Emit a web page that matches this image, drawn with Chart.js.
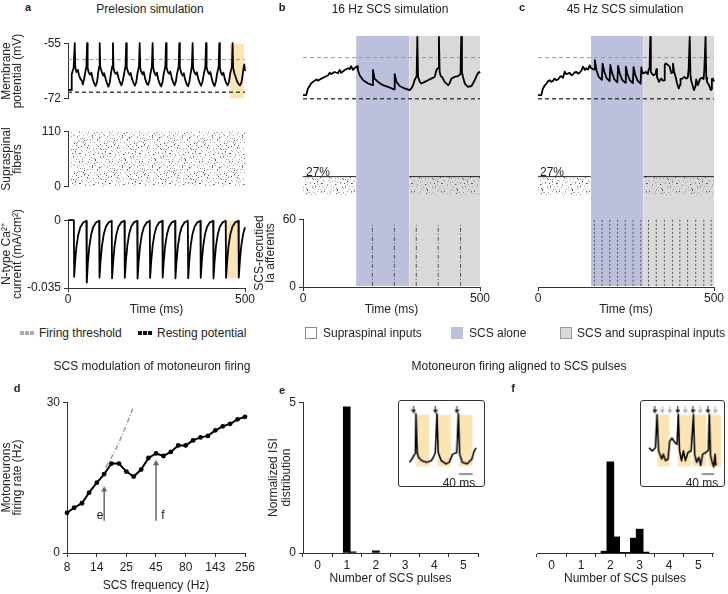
<!DOCTYPE html>
<html><head><meta charset="utf-8">
<script src="https://cdn.jsdelivr.net/npm/chart.js@4.4.1/dist/chart.umd.min.js"></script>
<style>
html,body{margin:0;padding:0;background:#fff;}
body{width:728px;height:594px;position:relative;overflow:hidden;font-family:'Liberation Sans',Arial,sans-serif;color:#222;}
canvas{position:absolute;}
.t{position:absolute;font-size:12px;white-space:nowrap;line-height:14px;transform:translate(-50%,-50%);}
.tl{position:absolute;font-size:12px;white-space:nowrap;line-height:14px;transform:translate(0,-50%);}
.lab{position:absolute;font-size:11px;font-weight:bold;line-height:12px;transform:translate(-50%,-50%);}
.sw{position:absolute;box-sizing:border-box;}
</style></head><body>
<script>
// ---------------- DATA ----------------
const timeTicks = [0, 500];
const timeTickLabels = ['0', '500'];
const vmTicks = [-72, -55];
const vmTickLabels = ['-72', '-55'];
const fiberTicks = [0, 110];
const caTicks = [-0.035, 0];
const caTickLabels = ['-0.035', '0'];
const iaTicks = [0, 60];
const thresholdMv = -60;
const restMv = -70;
const supraFraction = 29.7; // 27% of 110 fibres

// panel a membrane potential (ms, mV)
const traceA = [[0,-69.3],[9,-69.3],[10.5,-64.5],[13,-63.5],[16,-62.5],[19,-55],
[20.5,-62.4],[24,-63.8],[28,-63.2],[31,-64.8],[35,-65.9],[39,-66.5],[42,-67.6],[45,-66.2],[49,-63.8],[52,-62.1],[54,-55],
[55.5,-62.6],[59,-64.1],[63,-64.6],[66,-64],[70,-66],[74,-67.3],[78,-68.1],[82,-66.9],[85,-64.3],[88,-62.2],[89.5,-55],
[91,-62.3],[95,-63.6],[99,-64.9],[102,-64.2],[106,-65.8],[110,-67.2],[114,-68.3],[118,-67],[121,-64.5],[125,-62],[127,-55],
[128.5,-62.5],[132,-64],[136,-64.4],[139,-63.9],[143,-65.7],[147,-67],[151,-67.9],[155,-66.4],[159,-64],[162.5,-62.1],[164.5,-55],
[166,-62.4],[170,-63.9],[174,-64.7],[177,-64.1],[181,-66],[185,-67.1],[189,-68],[193,-66.8],[196,-64.4],[200.5,-62],[202.5,-55],
[204,-62.6],[207,-63.7],[211,-64.5],[214,-63.8],[218,-65.9],[222,-67.2],[226,-67.8],[230,-66.5],[233,-64.2],[237,-62.2],[239,-55],
[240.5,-62.3],[244,-64],[248,-64.8],[251,-64],[255,-66.1],[259,-67.4],[263,-68.2],[267,-66.9],[270,-64.6],[275,-62.1],[277,-55],
[278.5,-62.5],[282,-63.8],[286,-64.3],[289,-63.7],[293,-65.6],[297,-66.9],[301,-67.9],[305,-66.6],[308,-64.3],[312.5,-62.2],[314.5,-55],
[316,-62.4],[320,-64.1],[324,-64.9],[327,-64.2],[331,-66.2],[335,-67.5],[339,-68.2],[343,-66.8],[346,-64.5],[350,-62],[352,-55],
[353.5,-62.6],[357,-63.9],[361,-64.6],[364,-63.9],[368,-65.9],[372,-67.1],[376,-68],[380,-66.7],[384,-64.2],[388,-62.3],[390,-55],
[391.5,-62.4],[395,-63.7],[399,-64.4],[402,-63.8],[406,-65.7],[410,-67.3],[414,-68.1],[418,-66.6],[421,-64.4],[425.5,-62.1],[427.5,-55],
[429,-62.5],[432,-64],[436,-64.7],[439,-64],[443,-66],[447,-67.2],[451,-67.9],[455,-66.7],[458,-64.3],[463,-62.2],[465,-55],
[466.5,-62.5],[470,-64.2],[474,-65.5],[478,-66.8],[482,-67.5],[486,-67.9],[490,-67],[493,-65],[496,-62.5],[498,-61.5],[500,-63.5]];

// panel a N-type Ca current (ms, mA/cm2)
const caA = [[0,0],[16.5,0],
[17.5,-0.0292],[20,-0.0215],[24,-0.0135],[29,-0.0075],[35,-0.0035],[43,-0.0012],[52,-0.0003],
[53,-0.0322],[56,-0.0225],[60,-0.014],[65,-0.0078],[71,-0.0036],[79,-0.0012],[88,-0.0003],
[89,-0.0296],[92,-0.0212],[96,-0.0132],[101,-0.0073],[107,-0.0034],[115,-0.0011],[123.5,-0.0003],
[124.5,-0.0300],[127.5,-0.0215],[131.5,-0.0134],[136.5,-0.0074],[142.5,-0.0034],[150.5,-0.0011],[159.5,-0.0003],
[160.5,-0.0297],[163.5,-0.0213],[167.5,-0.0133],[172.5,-0.0073],[178.5,-0.0034],[186.5,-0.0011],[195.5,-0.0003],
[196.5,-0.0301],[199.5,-0.0216],[203.5,-0.0135],[208.5,-0.0074],[214.5,-0.0035],[222.5,-0.0012],[231,-0.0003],
[232,-0.0298],[235,-0.0214],[239,-0.0133],[244,-0.0073],[250,-0.0034],[258,-0.0011],[266.5,-0.0003],
[267.5,-0.0296],[270.5,-0.0212],[274.5,-0.0132],[279.5,-0.0073],[285.5,-0.0034],[293.5,-0.0011],[302.5,-0.0003],
[303.5,-0.0300],[306.5,-0.0215],[310.5,-0.0134],[315.5,-0.0074],[321.5,-0.0034],[329.5,-0.0011],[338.5,-0.0003],
[339.5,-0.0299],[342.5,-0.0214],[346.5,-0.0133],[351.5,-0.0073],[357.5,-0.0034],[365.5,-0.0011],[374,-0.0003],
[375,-0.0297],[378,-0.0213],[382,-0.0133],[387,-0.0073],[393,-0.0034],[401,-0.0011],[410,-0.0003],
[411,-0.0300],[414,-0.0215],[418,-0.0134],[423,-0.0074],[429,-0.0034],[437,-0.0011],[445.5,-0.0003],
[446.5,-0.0297],[449.5,-0.0213],[453.5,-0.0133],[458.5,-0.0073],[464.5,-0.0034],[472.5,-0.0011],[481.5,-0.0003],
[482.5,-0.0296],[485.5,-0.0212],[489.5,-0.0132],[494.5,-0.0073],[500,-0.0036]];

const highlightVm = [458, 497];
const highlightCa = [446, 484];

// panel b (16 Hz)
const bScsAlone = [150, 300];
const bScsSupra = [300, 500];
const bPulses = [196, 258, 320, 382, 445];
const traceB = [[0,-69.1],[9,-69.1],[14,-67.5],[23,-66.3],[28,-65.9],[38,-65.3],[42,-65.6],[52,-65.1],[61,-64.7],[71,-64.3],[75,-63.7],[80,-64.0],[89,-63.5],[99,-63.8],[104,-63.0],[108,-63.7],[118,-63.0],[127,-62.6],[132,-62.8],[136,-62.1],[141,-63.0],[148,-62.4],[153,-62.1],[155,-63.0],[160,-64.3],[170,-65.5],[184,-66.3],[196,-66.7],[197.7,-63.0],[202,-65.1],[212,-65.9],[226,-66.7],[240,-67.1],[257.5,-67.7],[259,-64.0],[264,-65.9],[273,-66.9],[287,-67.5],[301,-67.9],[306,-67.5],[311,-66.7],[315,-65.5],[321,-64.5],[323,-55],[325,-64.7],[330,-65.9],[334,-66.3],[344,-65.9],[353,-65.5],[362,-65.1],[372,-64.7],[377,-63.0],[382,-62.5],[384,-55],[386,-63.5],[389,-64.5],[393,-64.7],[400,-65.9],[410,-66.7],[414,-66.3],[419,-65.1],[428,-64.7],[438,-64.5],[445,-64.0],[447,-55],[449,-63.5],[452,-64.7],[457,-66.3],[466,-67.1],[476,-66.9],[485,-65.5],[494,-63.8],[497,-63.5],[500,-63.8]];

// panel c (45 Hz)
const cScsAlone = [150, 300];
const cScsSupra = [300, 500];
const cPulses = [160, 182, 204, 226, 248, 270, 292, 314, 336, 359, 382, 403, 425, 448, 471, 492];
const traceC = [[0,-69.1],[9.5,-69.1],[14,-67.5],[19,-66.8],[24,-66.3],[29,-65.7],[33,-65.5],[38,-65.9],[43,-65.6],[47,-65.1],[52,-65.5],[57,-65.3],[62,-64.7],[66,-64.5],[71,-64.9],[76,-63.4],[80,-64.0],[85,-63.9],[90,-63.7],[95,-64.3],[99,-64.1],[104,-63.6],[109,-63.5],[114,-63.9],[118,-63.7],[123,-63.2],[128,-62.2],[133,-63.0],[137,-62.6],[142,-62.9],[147,-61.9],[151,-62.6],[156,-62.8],
[160,-62.9],[161.5,-60.6],[166,-63.0],[172,-64.6],[181.5,-65.4],[183.5,-61.5],[188,-63.3],[195,-65.0],[203.5,-65.7],[205.5,-61.8],[210,-63.6],[217,-65.3],[225.5,-66.0],[227.5,-62.0],[232,-63.8],[239,-65.4],[247.5,-66.1],[249.5,-62.2],[254,-64.0],[261,-65.5],[269.5,-66.2],[271.5,-62.3],[276,-64.1],[283,-65.6],[291.5,-66.3],[293.5,-62.4],[297,-63.8],
[300,-63.8],[306,-63.5],[312,-64.0],[314,-63.0],[317,-62.5],[319,-55],[320.5,-63.5],[323,-63.8],[328,-64.3],[334,-64.0],[336.5,-62.8],[338,-64.7],[344,-65.9],[350,-65.1],[355,-65.6],[358.5,-65.5],[360,-61.8],[363,-61.4],[369,-61.8],[374,-62.2],[379,-63.8],[382,-63.6],[383.5,-61.5],[387,-63.5],[391,-64.7],[395,-66.3],[400,-67.5],[403.5,-66.6],[405,-65.2],[410,-65.1],[416,-64.7],[422,-65.1],[425.5,-64.8],[428,-62.8],[431,-55],[433,-64.2],[435,-65.5],[439,-66.7],[443,-67.9],[447.5,-67.0],[449.5,-65.3],[454,-66.7],[461,-65.1],[466,-64.9],[470.5,-65.2],[472.5,-62.9],[476,-55],[478,-64.8],[480,-65.9],[486,-66.7],[491,-67.9],[492.5,-67.6],[494,-65.2],[497,-65.1],[500,-65.8]];
const iaRange = [1, 56];

// panel d
const dFreq = [8, 9.2, 10.7, 12.3, 14.3, 16.5, 19.0, 22.0, 25.4, 29.3, 33.9, 39.1, 45.3, 52.3, 60.4, 69.8, 80.6, 93.1, 107.6, 124.3, 143.7, 166.0, 191.8, 221.6, 256];
const dRate = [8.0, 9.0, 9.9, 12.0, 14.0, 15.7, 17.8, 17.8, 16.2, 15.2, 16.6, 18.9, 19.8, 19.3, 20.1, 21.4, 21.4, 22.4, 23.0, 23.3, 24.4, 25.2, 25.7, 26.6, 27.1];
const dIdentityX = [17, 19.5, 22, 25, 29];
const dIdentityY = [17, 19.5, 22, 25, 29];
const dFreqTicks = [8, 14.25, 25.4, 45.25, 80.6, 143.7, 256];
const dFreqTickLabels = ['8', '14', '25', '45', '80', '143', '256'];
const dRateTicks = [0, 30];
const dArrowE = [16.5, 6.4, 13.2];
const dArrowF = [45.3, 6.4, 18.4];

// panels e, f
const pulseTicks = [0, 1, 2, 3, 4, 5];
const isiTicks = [0, 5];
const eBins = [1.0, 1.2, 2.0];
const eVals = [4.85, 0.04, 0.07];
const fBins = [1.8, 2.0, 2.2, 2.4, 2.6, 2.8, 3.0, 3.2];
const fVals = [0.06, 2.94, 0.52, 0.02, 0.02, 0.48, 0.77, 0.03];

// insets (ms, arbitrary units)
const eInsetTrace = [[30.6,28],[38.2,31.8],[42.9,35.6],[47.8,38.2],[49.7,84.9],[53.5,39.4],[57.3,33.7],[66.8,29.9],[81.1,28],[95.4,29.9],[103,35.6],[106.9,39.4],[111.6,84.9],[115.4,39.4],[124,29.9],[138.3,26.1],[147.8,28],[157.4,37.5],[169.8,39.4],[174.5,84.9],[178.4,37.5],[186,28],[200.3,26.1],[214.6,31.8],[221.3,41.3],[227,45]];
const eInsetBoxes = [[50,89],[113,152],[176,216]];
const eInsetArrows = [43, 107, 170];
const fInsetTrace = [[23.8,45.1],[33.4,41.3],[42.9,45.1],[47.7,84.1],[52.4,41.3],[62,31.8],[66.7,37.5],[73.4,29.9],[80.9,31.8],[85.8,52.6],[92.4,56.4],[102,50.8],[107.7,48.9],[111.5,84.1],[115.3,41.3],[121,29.9],[126.7,41.3],[132.5,29.9],[140.1,39.4],[149.6,41.3],[156.4,84.1],[160.2,37.5],[165.9,28],[172.6,33.7],[178.3,24.2],[184,37.5],[193.6,39.4],[201.2,42],[204,84.1],[208,35.6],[212.7,28],[217.5,22.3],[221.3,37.5],[224.2,24.2]];
const fInsetBoxes = [[47.6,86],[109.6,150.7],[154.5,195.5],[200.2,240]];
const fInsetArrowsBlack = [41, 110, 155, 200];
const fInsetArrowsGray = [64, 86, 132, 177, 222];
const eScaleBar = [176, 217];
const fScaleBar = [181, 219];

// raster texture tile (dot offsets in a 30x30 tile)
const rasterTile = [[2,3],[7,1],[12,5],[18,2],[24,4],[28,8],[4,9],[10,11],[15,8],[21,10],[26,13],[1,15],[8,16],[13,14],[19,17],[23,19],[29,18],[3,21],[9,23],[16,21],[20,25],[27,24],[5,27],[12,28],[17,26],[25,29],[0,6],[14,0],[22,14],[6,19],[11,2],[28,27],[18,11],[3,12],[24,22],[9,6],[15,24],[20,29],[27,1],[7,25]];

// ---------------- STYLE / HELPERS ----------------
const ORANGE='#fde4b3', BLUE='#bcc0dc', GRAY='#d9d9d9';
Chart.defaults.font.family = "'Liberation Sans', Arial, sans-serif";
Chart.defaults.font.size = 12;
Chart.defaults.color = '#222';
Chart.defaults.animation = false;
Chart.defaults.plugins.legend.display = false;
Chart.defaults.plugins.tooltip.enabled = false;
Chart.defaults.elements.point.radius = 0;
Chart.defaults.elements.line.tension = 0;

const pts = a => a.map(p => ({x:p[0], y:p[1]}));
const zip = (xs, ys) => xs.map((x,i) => ({x, y:ys[i]}));
function hline(y, x0, x1, color, w, dash){ return {data:[{x:x0,y},{x:x1,y}], borderColor:color, borderWidth:w, borderDash:dash||[], pointRadius:0, fill:false, order:3}; }
function box(x0, x1, y0, y1, color, order){ return {data:[{x:x0,y:y1},{x:x1,y:y1}], fill:{value:y0}, backgroundColor:color, borderWidth:0, pointRadius:0, order:order||10}; }
function vlines(xs, y0, y1){ const d=[]; xs.forEach(x => { d.push({x,y:y0},{x,y:y1},{x,y:null}); }); return d; }
function trace(a, w){ return {data:pts(a), borderColor:'#000', borderWidth:w||1.8, pointRadius:0, fill:false, borderJoinStyle:'round', clip:4, order:0}; }
const patCache = new WeakMap();
function rasterPattern(ctx){
  if (patCache.has(ctx)) return patCache.get(ctx);
  const c=document.createElement('canvas'); c.width=30; c.height=30;
  const g=c.getContext('2d');
  rasterTile.forEach((p,i) => {
    g.fillStyle = (i%3===0)?'#555':'#999'; g.fillRect(p[0],p[1],1,1);
    g.fillStyle = (i%4===0)?'#666':'#aaa'; g.fillRect((p[1]+15)%30,(p[0]+8)%30,1,1);
    g.fillStyle = (i%5===0)?'#555':'#b0b0b0'; g.fillRect((p[0]+11)%30,(p[1]+19)%30,1,1);
  });
  const pat = ctx.createPattern(c,'repeat'); patCache.set(ctx, pat); return pat;
}
function arrowImg(color, w, h){
  const c=document.createElement('canvas'); c.width=w; c.height=h;
  const g=c.getContext('2d'); const mx=w/2;
  g.strokeStyle=color; g.lineWidth=1; g.beginPath(); g.moveTo(mx,0); g.lineTo(mx,h-3); g.stroke();
  g.fillStyle=color; g.beginPath(); g.moveTo(0,h-4); g.lineTo(w,h-4); g.lineTo(mx,h); g.closePath(); g.fill();
  return c;
}
const ARROW_BLACK = arrowImg('#111', 5, 8);
const ARROW_GRAY = arrowImg('#aaa', 5, 8);
function arrows(xs, y, img){ return {data:xs.map(x=>({x,y})), showLine:false, pointStyle:img, pointRadius:4, clip:false, order:0}; }

function place(area, m, config){
  const padL=m.padL||0, padT=m.padT||0, padR=m.padR||0, padB=m.padB||0, yW=m.yW||0, xH=m.xH||0;
  const left = area.L - yW - padL, top = area.T - padT;
  const w = area.R - area.L + yW + padL + padR, h = area.B - area.T + xH + padT + padB;
  const cv = document.createElement('canvas');
  cv.width = w; cv.height = h;
  cv.style.left = (left - (m.border?1:0)) + 'px'; cv.style.top = (top - (m.border?1:0)) + 'px';
  cv.style.width = w + 'px'; cv.style.height = h + 'px';
  if (m.border) { cv.style.border = '1px solid #333'; cv.style.borderRadius = '3px'; }
  document.body.appendChild(cv);
  config.options = config.options || {};
  config.options.responsive = false;
  config.options.layout = {autoPadding:false, padding:{left:padL, top:padT, right:padR, bottom:padB}};
  return new Chart(cv, config);
}
function yAxis(min, max, ticks, labels, title, w, lh){
  return { type:'linear', min, max, position:'left',
    afterBuildTicks: s => { s.ticks = ticks.map(v => ({value:v})); },
    afterFit: s => { s.width = w; },
    ticks: { padding:3, color:'#222', font:{size:12}, callback:(v,i) => labels[i] },
    grid: { drawOnChartArea:false, drawTicks:true, tickLength:4, color:'#333', lineWidth:1 },
    border: { display:true, color:'#333', width:1 },
    title: { display:!!title, text:title, color:'#222', font:{size:12, lineHeight:lh||0.95}, padding:{top:0, bottom:0} } };
}
function xAxis(min, max, ticks, labels, title, h, pad, type){
  return { type:type||'linear', min, max, position:'bottom',
    afterBuildTicks: s => { s.ticks = ticks.map(v => ({value:v})); },
    afterFit: s => { s.height = h; },
    ticks: { padding:pad, color:'#222', font:{size:12}, maxRotation:0, autoSkip:false, callback:(v,i) => labels[i] },
    grid: { drawOnChartArea:false, drawTicks:true, tickLength:4, color:'#333', lineWidth:1 },
    border: { display:true, color:'#333', width:1 },
    title: { display:!!title, text:title, color:'#222', font:{size:12}, padding:{top:0, bottom:0} } };
}
const hid = (min, max, type) => ({type:type||'linear', min, max, display:false});
function lineCfg(datasets, x, y){ return {type:'line', data:{datasets}, options:{scales:{x, y}}}; }

// ---------------- PANEL a ----------------
place({L:68,T:37,R:245,B:107}, {yW:67, padT:4, padB:2, padR:4}, lineCfg([
  trace(traceA),
  hline(thresholdMv, 0, 500, '#9a9a9a', 1, [4,3]),
  hline(restMv, 0, 500, '#444', 1.5, [4,3]),
  box(highlightVm[0], highlightVm[1], -72, -55, ORANGE)
], hid(0,500), yAxis(-72, -55, vmTicks, vmTickLabels, ['Membrane','potential (mV)'], 67)));

place({L:68,T:127,R:245,B:195}, {yW:67, padT:6, padB:2, padR:4}, lineCfg([
  {data:[{x:8,y:110},{x:500,y:110}], borderWidth:0, pointRadius:0, fill:'origin', backgroundColor: c => rasterPattern(c.chart.ctx)}
], hid(0,500), yAxis(0, 110, fiberTicks, ['0','110'], ['Supraspinal','fibers'], 67)));

place({L:68,T:216,R:245,B:288}, {yW:67, xH:29, padT:6, padR:14}, lineCfg([
  trace(caA),
  box(highlightCa[0], highlightCa[1], -0.030, 0, ORANGE)
], xAxis(0, 500, timeTicks, timeTickLabels, 'Time (ms)', 29, 0), yAxis(-0.035, 0, caTicks, caTickLabels, ['N-type Ca²⁺','current (mA/cm²)'], 67)));

// ---------------- PANELS b, c ----------------
function stimPanel(L, R, alone, supra, pulses, tr, yAxisIa){
  place({L, T:36, R, B:286}, {}, lineCfg([
    box(alone[0], alone[1], 0, 1, BLUE, 1),
    box(supra[0], supra[1], 0, 1, GRAY, 1)
  ], hid(0,500), hid(0,1)));
  place({L, T:37, R, B:107}, {padT:12, padB:2, padR:4}, lineCfg([
    trace(tr),
    arrows(pulses, -53.5, ARROW_BLACK),
    hline(thresholdMv, 0, 500, '#9a9a9a', 1, [4,3]),
    hline(restMv, 0, 500, '#444', 1.5, [4,3])
  ], hid(0,500), hid(-72,-55)));
  place({L, T:127, R, B:195}, {padT:6, padB:2, padR:4}, lineCfg([
    {data:[{x:0,y:supraFraction},{x:alone[0],y:supraFraction}], borderColor:'#222', borderWidth:1, pointRadius:0, fill:'origin', backgroundColor: c => rasterPattern(c.chart.ctx)},
    {data:[{x:supra[0],y:supraFraction},{x:supra[1],y:supraFraction}], borderColor:'#222', borderWidth:1, pointRadius:0, fill:'origin', backgroundColor: c => rasterPattern(c.chart.ctx)}
  ], hid(0,500), hid(0,110)));
  const iaLines = {data:vlines(pulses, iaRange[0], iaRange[1]), borderColor:'#555', borderWidth:1, borderDash: pulses.length>8?[2,2]:[4,2,1,2], pointRadius:0, fill:false, spanGaps:false};
  place({L, T:215, R, B:287}, yAxisIa ? {yW:49, xH:30, padT:6, padR:14} : {xH:30, padT:6, padL:8, padR:12}, lineCfg([iaLines],
    xAxis(0, 500, timeTicks, timeTickLabels, 'Time (ms)', 30, 0),
    yAxisIa ? yAxis(0, 60, iaTicks, ['0','60'], ['SCS-recrutied','Ia afferents'], 49) : hid(0,60)));
}
stimPanel(303, 480, bScsAlone, bScsSupra, bPulses, traceB, true);
stimPanel(538, 714, cScsAlone, cScsSupra, cPulses, traceC, false);

// ---------------- PANEL d ----------------
place({L:67,T:398,R:245,B:553}, {yW:66, xH:40, padT:6, padR:14}, lineCfg([
  {data:zip(dFreq, dRate), borderColor:'#000', borderWidth:2, pointRadius:2.4, pointBackgroundColor:'#000', pointBorderWidth:0, fill:false, order:0, clip:4},
  {data:zip(dIdentityX, dIdentityY), borderColor:'#9a9a9a', borderWidth:1.5, borderDash:[5,2,1,2], fill:false, order:2},
  {data:[{x:dArrowE[0],y:dArrowE[1]},{x:dArrowE[0],y:dArrowE[2]-0.8}], borderColor:'#666', borderWidth:1.5, fill:false, order:1},
  {data:[{x:dArrowF[0],y:dArrowF[1]},{x:dArrowF[0],y:dArrowF[2]-0.8}], borderColor:'#666', borderWidth:1.5, fill:false, order:1},
  {data:[{x:dArrowE[0],y:dArrowE[2]-0.6},{x:dArrowF[0],y:dArrowF[2]-0.6}], showLine:false, pointStyle:'triangle', pointRadius:3.5, pointBackgroundColor:'#666', pointBorderWidth:0, order:1}
], xAxis(8, 256, dFreqTicks, dFreqTickLabels, 'SCS frequency (Hz)', 40, 3, 'logarithmic'),
   yAxis(0, 30, dRateTicks, ['0','30'], ['Motoneurons','firing rate (Hz)'], 66)));

// ---------------- PANELS e, f ----------------
function histCfg(bins, vals, yAx){
  return {type:'bar', data:{datasets:[{data:zip(bins, vals), backgroundColor:'#000', borderWidth:0, barThickness:7, grouped:false}]},
    options:{scales:{x:xAxis(0, 5, pulseTicks, pulseTicks.map(String), 'Number of SCS pulses', 33, 1), y:yAx}}};
}
place({L:303,T:398,R:478,B:553}, {yW:36, xH:33, padT:6, padR:10}, histCfg(eBins, eVals, yAxis(0, 5, isiTicks, ['0','5'], ['Normalized ISI','distribution'], 36, 1.1)));
place({L:537,T:398,R:713,B:553}, {xH:33, padT:6, padL:8, padR:10}, histCfg(fBins, fVals, hid(0,5)));

// insets
function insetDatasets(tr, boxes, bar){
  const ds = [trace(tr, 1.6)];
  boxes.forEach(b => ds.push(box(b[0], b[1], 23, 84, ORANGE)));
  ds.push({data:[{x:bar[0],y:14},{x:bar[1],y:14}], borderColor:'#222', borderWidth:1, fill:false, order:1});
  return ds;
}
const eDs = insetDatasets(eInsetTrace, eInsetBoxes, eScaleBar);
eDs.push(arrows(eInsetArrows, 90, ARROW_BLACK));
place({L:399,T:401,R:486,B:488}, {border:true}, lineCfg(eDs, hid(0,250), hid(0,100)));
const fDs = insetDatasets(fInsetTrace, fInsetBoxes, fScaleBar);
fDs.push(arrows(fInsetArrowsBlack, 90, ARROW_BLACK));
fDs.push(arrows(fInsetArrowsGray, 90, ARROW_GRAY));
place({L:641,T:401,R:726,B:488}, {border:true}, lineCfg(fDs, hid(0,248), hid(0,100)));

// ---------------- TEXT ----------------
function txt(s, x, y, cls, extra){ const d=document.createElement('div'); d.className=cls||'t'; d.textContent=s; d.style.left=x+'px'; d.style.top=y+'px'; if(extra) Object.assign(d.style, extra); d.style.zIndex=5; document.body.appendChild(d); return d; }
txt('a', 28, 7, 'lab'); txt('b', 282, 7, 'lab'); txt('c', 522, 7, 'lab');
txt('d', 17, 388, 'lab'); txt('e', 282, 390, 'lab'); txt('f', 513, 388, 'lab');
txt('Prelesion simulation', 150, 9);
txt('16 Hz SCS simulation', 390, 9);
txt('45 Hz SCS simulation', 625, 9);
txt('27%', 306, 172, 'tl');
txt('27%', 540, 172, 'tl');
txt('SCS modulation of motoneuron firing', 152, 366);
txt('Motoneuron firing aligned to SCS pulses', 519, 366);
txt('e', 100, 515); txt('f', 163, 515);
txt('40 ms', 459, 483); txt('40 ms', 702, 483);
// legend
const LY = 333;
function sq(x, y, w, h, bg, bd){ const d=document.createElement('div'); d.className='sw'; Object.assign(d.style,{left:x+'px',top:(y-h/2)+'px',width:w+'px',height:h+'px',background:bg,border:bd||'none'}); document.body.appendChild(d); }
[20,25,30].forEach(x => sq(x, LY, 3.5, 3.5, '#aaa'));
txt('Firing threshold', 39, LY, 'tl');
[138,143,148].forEach(x => sq(x, LY, 3.5, 3.5, '#111'));
txt('Resting potential', 157, LY, 'tl');
sq(305, LY, 12, 12, '#fff', '1px solid #888');
txt('Supraspinal inputs', 323, LY, 'tl');
sq(451, LY, 12, 12, BLUE);
txt('SCS alone', 469, LY, 'tl');
sq(560, LY, 12, 12, GRAY, '1px solid #999');
txt('SCS and supraspinal inputs', 577, LY, 'tl');
</script>
</body></html>
